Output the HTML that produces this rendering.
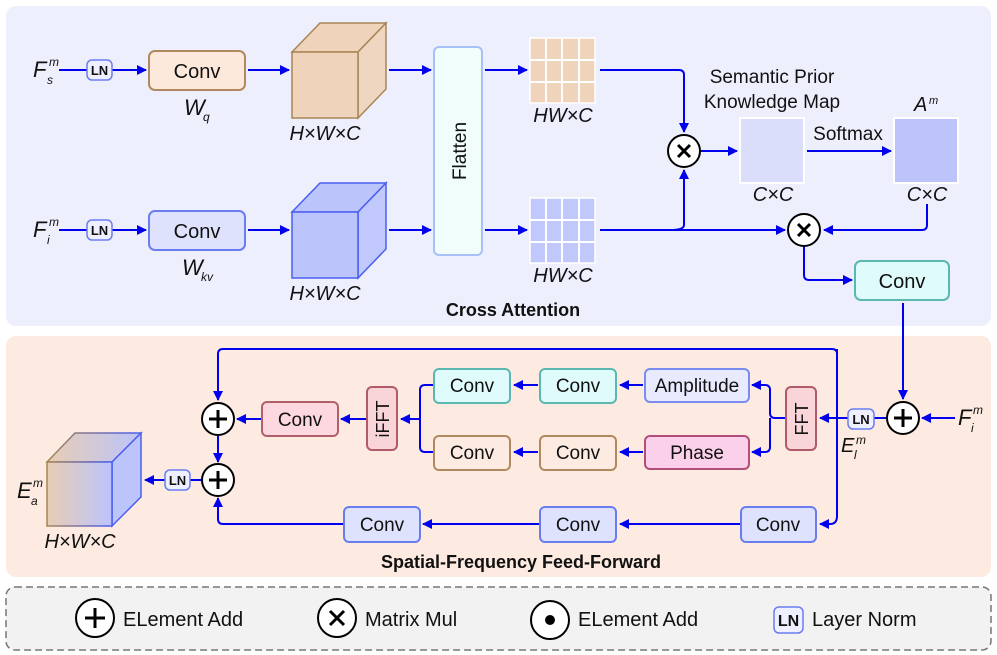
<!DOCTYPE html>
<html><head><meta charset="utf-8"><style>
html,body{margin:0;padding:0;background:#fff}
svg{display:block}
text{font-family:"Liberation Sans",Arial,sans-serif;fill:#111}
.it{font-style:italic}
.b{font-weight:bold}
</style></head><body>
<svg width="997" height="655" viewBox="0 0 997 655" xmlns="http://www.w3.org/2000/svg">
<defs>
<marker id="a" markerWidth="10" markerHeight="10" refX="9" refY="5" orient="auto" markerUnits="userSpaceOnUse">
<path d="M0,0 L10,5 L0,10 Z" fill="#0000ee"/></marker>
<linearGradient id="g" x1="0" x2="1"><stop offset="0" stop-color="#e8cdb3"/><stop offset="1" stop-color="#bcc4fc"/></linearGradient>
<linearGradient id="gs" x1="0" x2="1"><stop offset="0" stop-color="#a88556"/><stop offset="1" stop-color="#4a5ff0"/></linearGradient>
</defs>
<rect x="6" y="6" width="985" height="320" rx="10" fill="#eeeffd"/>
<rect x="6" y="336" width="985" height="241" rx="10" fill="#fdebe2"/>
<rect x="6" y="587" width="985" height="63" rx="9" fill="#f2f2f2" stroke="#777" stroke-width="1.5" stroke-dasharray="7,4"/>

<g stroke="#0000ee" stroke-width="2" fill="none">
<line x1="59" y1="70" x2="87" y2="70"/>
<line x1="112" y1="70" x2="146" y2="70" marker-end="url(#a)"/>
<line x1="248" y1="70" x2="289" y2="70" marker-end="url(#a)"/>
<line x1="389" y1="70" x2="431" y2="70" marker-end="url(#a)"/>
<line x1="485" y1="70" x2="527" y2="70" marker-end="url(#a)"/>
<path d="M600,70 H679 Q684,70 684,75 V132" marker-end="url(#a)"/>
<line x1="59" y1="230" x2="87" y2="230"/>
<line x1="112" y1="230" x2="146" y2="230" marker-end="url(#a)"/>
<line x1="248" y1="230" x2="289" y2="230" marker-end="url(#a)"/>
<line x1="389" y1="230" x2="431" y2="230" marker-end="url(#a)"/>
<line x1="485" y1="230" x2="527" y2="230" marker-end="url(#a)"/>
<line x1="600" y1="230" x2="785" y2="230" marker-end="url(#a)"/>
<path d="M670,230 Q684,230 684,225 V170" marker-end="url(#a)"/>
<line x1="701" y1="151" x2="737" y2="151" marker-end="url(#a)"/>
<line x1="807" y1="151" x2="891" y2="151" marker-end="url(#a)"/>
<path d="M927,204 V225 Q927,230 922,230 H824" marker-end="url(#a)"/>
<path d="M804,247 V275 Q804,280 809,280 H852" marker-end="url(#a)"/>
<line x1="903" y1="303" x2="903" y2="399" marker-end="url(#a)"/>
<line x1="955" y1="418" x2="922" y2="418" marker-end="url(#a)"/>
<line x1="887" y1="418" x2="874" y2="418"/>
<line x1="848" y1="418" x2="820" y2="418" marker-end="url(#a)"/>
<path d="M837,349 V516 Q837,524 830,524 H820" marker-end="url(#a)"/>
<path d="M837,354 Q837,349 832,349 H223 Q218,349 218,354 V400" marker-end="url(#a)"/>
<path d="M786,418 H775 Q770,418 770,413 V390 Q770,385 765,385 H752" marker-end="url(#a)"/>
<path d="M770,418 V447 Q770,452 765,452 H752" marker-end="url(#a)"/>
<line x1="643" y1="385" x2="620" y2="385" marker-end="url(#a)"/>
<line x1="538" y1="385" x2="514" y2="385" marker-end="url(#a)"/>
<line x1="643" y1="452" x2="620" y2="452" marker-end="url(#a)"/>
<line x1="538" y1="452" x2="514" y2="452" marker-end="url(#a)"/>
<path d="M433,385 H425 Q420,385 420,390 V447 Q420,452 425,452 H433"/>
<line x1="420" y1="419" x2="401" y2="419" marker-end="url(#a)"/>
<line x1="366" y1="419" x2="341" y2="419" marker-end="url(#a)"/>
<line x1="261" y1="419" x2="237" y2="419" marker-end="url(#a)"/>
<line x1="218" y1="436" x2="218" y2="462" marker-end="url(#a)"/>
<line x1="202" y1="480" x2="190" y2="480"/>
<line x1="165" y1="480" x2="145" y2="480" marker-end="url(#a)"/>
<line x1="741" y1="524" x2="620" y2="524" marker-end="url(#a)"/>
<line x1="540" y1="524" x2="423" y2="524" marker-end="url(#a)"/>
<path d="M344,524 H223 Q218,524 218,519 V498" marker-end="url(#a)"/>
</g>

<text x="33" y="77" class="it" font-size="22">F</text><text x="47" y="84" class="it" font-size="12">s</text><text x="49" y="66" class="it" font-size="12">m</text>
<text x="33" y="237" class="it" font-size="22">F</text><text x="47" y="244" class="it" font-size="12">i</text><text x="49" y="226" class="it" font-size="12">m</text>
<g fill="#eef0ff" stroke="#6a7df0" stroke-width="1.5">
<rect x="87" y="60" width="25" height="20" rx="5"/><rect x="87" y="220" width="25" height="20" rx="5"/>
<rect x="848" y="409" width="26" height="20" rx="5"/><rect x="165" y="470" width="25" height="20" rx="5"/>
<rect x="774" y="607" width="29" height="26" rx="5"/>
</g>
<g font-size="13" class="b" text-anchor="middle">
<text x="99.5" y="75">LN</text><text x="99.5" y="235">LN</text><text x="861" y="424">LN</text><text x="177.5" y="485">LN</text>
</g>
<text x="788.5" y="626" font-size="16" class="b" text-anchor="middle">LN</text>

<rect x="149" y="51" width="96" height="39" rx="6" fill="#fde9dc" stroke="#b08a5e" stroke-width="2"/>
<rect x="149" y="211" width="96" height="39" rx="6" fill="#dfe2fd" stroke="#6a7df0" stroke-width="2"/>
<g font-size="20" text-anchor="middle"><text x="197" y="78">Conv</text><text x="197" y="238">Conv</text></g>
<text x="184" y="115" class="it" font-size="22">W</text><text x="203" y="121" class="it" font-size="12">q</text>
<text x="182" y="275" class="it" font-size="22">W</text><text x="201" y="281" class="it" font-size="12">kv</text>

<g stroke="#a88556" stroke-width="1.5" fill="#efd3bb">
<path d="M292,52 L320,23 L386,23 L358,52 Z"/><path d="M358,52 L386,23 L386,89 L358,118 Z" fill="#efd6c0"/><rect x="292" y="52" width="66" height="66"/>
</g>
<g stroke="#4a5ff0" stroke-width="1.5" fill="#bcc4fc">
<path d="M292,212 L320,183 L386,183 L358,212 Z"/><path d="M358,212 L386,183 L386,249 L358,278 Z" fill="#c0c8fc"/><rect x="292" y="212" width="66" height="66"/>
</g>
<g font-size="20" class="it" text-anchor="middle"><text x="325" y="140">H×W×C</text><text x="325" y="300">H×W×C</text>
<text x="563" y="122">HW×C</text><text x="563" y="282">HW×C</text>
<text x="773" y="201">C×C</text><text x="927" y="201">C×C</text><text x="80" y="548">H×W×C</text></g>

<rect x="434" y="47" width="48" height="208" rx="5" fill="#f0fdfb" stroke="#a8c0f8" stroke-width="2"/>
<text transform="translate(466,151) rotate(-90)" font-size="19" text-anchor="middle">Flatten</text>

<rect x="530" y="38" width="65" height="65" fill="#efd3bb" stroke="#fff" stroke-width="1.5"/>
<g stroke="#fff" stroke-width="2"><line x1="546" y1="38" x2="546" y2="103"/><line x1="562" y1="38" x2="562" y2="103"/><line x1="579" y1="38" x2="579" y2="103"/><line x1="530" y1="60" x2="595" y2="60"/><line x1="530" y1="82" x2="595" y2="82"/></g>
<rect x="530" y="198" width="65" height="65" fill="#c1c8fb" stroke="#fff" stroke-width="1.5"/>
<g stroke="#fff" stroke-width="2"><line x1="546" y1="198" x2="546" y2="263"/><line x1="562" y1="198" x2="562" y2="263"/><line x1="579" y1="198" x2="579" y2="263"/><line x1="530" y1="220" x2="595" y2="220"/><line x1="530" y1="242" x2="595" y2="242"/></g>

<text x="772" y="83" font-size="19" text-anchor="middle">Semantic Prior</text>
<text x="772" y="108" font-size="19" text-anchor="middle">Knowledge Map</text>
<rect x="740" y="118" width="64" height="65" fill="#dadefa" stroke="#fff" stroke-width="2"/>
<rect x="894" y="118" width="64" height="65" fill="#bcc4fb" stroke="#fff" stroke-width="2"/>
<text x="848" y="140" font-size="19" text-anchor="middle">Softmax</text>
<text x="914" y="111" class="it" font-size="20">A</text><text x="929" y="104" class="it" font-size="11">m</text>

<g fill="#fff" stroke="#000" stroke-width="2">
<circle cx="684" cy="151" r="16"/><circle cx="804" cy="230" r="16"/><circle cx="903" cy="418" r="16"/>
<circle cx="218" cy="419" r="16"/><circle cx="218" cy="480" r="16"/>
<circle cx="95" cy="618" r="19"/><circle cx="337" cy="618" r="19"/><circle cx="550" cy="620" r="19"/>
</g>
<g stroke="#000" stroke-width="3" fill="none">
<path d="M678,145 L690,157 M690,145 L678,157"/><path d="M798,224 L810,236 M810,224 L798,236"/>
<path d="M903,409 V427 M894,418 H912"/><path d="M218,410 V428 M209,419 H227"/><path d="M218,471 V489 M209,480 H227"/>
<path d="M95,608 V628 M85,618 H105"/><path d="M330,611 L344,625 M344,611 L330,625"/>
</g>
<circle cx="550" cy="620" r="5" fill="#000"/>

<rect x="855" y="261" width="94" height="39" rx="6" fill="#e0fbfb" stroke="#5ab8b0" stroke-width="2"/>
<text x="902" y="288" font-size="20" text-anchor="middle">Conv</text>
<text x="513" y="316" font-size="18" class="b" text-anchor="middle">Cross Attention</text>

<text x="958" y="425" class="it" font-size="22">F</text><text x="971" y="432" class="it" font-size="12">i</text><text x="973" y="414" class="it" font-size="12">m</text>
<text x="841" y="452" class="it" font-size="20">E</text><text x="854" y="459" class="it" font-size="12">l</text><text x="856" y="444" class="it" font-size="12">m</text>
<rect x="786" y="387" width="30" height="63" rx="5" fill="#f9d4d9" stroke="#b05a6a" stroke-width="2"/>
<text transform="translate(808,419) rotate(-90)" font-size="18" text-anchor="middle">FFT</text>
<rect x="367" y="387" width="30" height="63" rx="5" fill="#f9d4d9" stroke="#b05a6a" stroke-width="2"/>
<text transform="translate(389,419) rotate(-90)" font-size="18" text-anchor="middle">iFFT</text>
<rect x="645" y="369" width="104" height="33" rx="5" fill="#e8ebfd" stroke="#7a8cf0" stroke-width="2"/>
<rect x="645" y="436" width="104" height="33" rx="5" fill="#fbd0ea" stroke="#b0507a" stroke-width="2"/>
<g fill="#e0fbfb" stroke="#5ab8b0" stroke-width="2"><rect x="540" y="369" width="76" height="34" rx="5"/><rect x="434" y="369" width="76" height="34" rx="5"/></g>
<g fill="#fdebe2" stroke="#b08a5e" stroke-width="2"><rect x="540" y="436" width="76" height="34" rx="5"/><rect x="434" y="436" width="76" height="34" rx="5"/></g>
<rect x="262" y="402" width="76" height="34" rx="5" fill="#fdd8df" stroke="#b0606a" stroke-width="2"/>
<g fill="#dfe2fd" stroke="#6a7df0" stroke-width="2"><rect x="741" y="507" width="75" height="35" rx="5"/><rect x="540" y="507" width="76" height="35" rx="5"/><rect x="344" y="507" width="76" height="35" rx="5"/></g>
<g font-size="19" text-anchor="middle">
<text x="697" y="392">Amplitude</text><text x="697" y="459">Phase</text>
<text x="578" y="392">Conv</text><text x="472" y="392">Conv</text><text x="578" y="459">Conv</text><text x="472" y="459">Conv</text>
<text x="300" y="426">Conv</text><text x="778" y="531">Conv</text><text x="578" y="531">Conv</text><text x="382" y="531">Conv</text>
</g>
<path d="M47,462 L75,433 L141,433 L112,462 Z" fill="url(#g)" stroke="url(#gs)" stroke-width="1.5"/>
<path d="M112,462 L141,433 L141,497 L112,526 Z" fill="#bcc4fc" stroke="#4a5ff0" stroke-width="1.5"/>
<rect x="47" y="462" width="65" height="64" fill="url(#g)" stroke="url(#gs)" stroke-width="1.5"/>
<text x="17" y="498" class="it" font-size="22">E</text><text x="31" y="505" class="it" font-size="12">a</text><text x="33" y="487" class="it" font-size="12">m</text>
<text x="521" y="568" font-size="18" class="b" text-anchor="middle">Spatial-Frequency Feed-Forward</text>

<g font-size="20"><text x="123" y="626">ELement Add</text><text x="365" y="626">Matrix Mul</text><text x="578" y="626">ELement Add</text><text x="812" y="626">Layer Norm</text></g>
</svg>
</body></html>
